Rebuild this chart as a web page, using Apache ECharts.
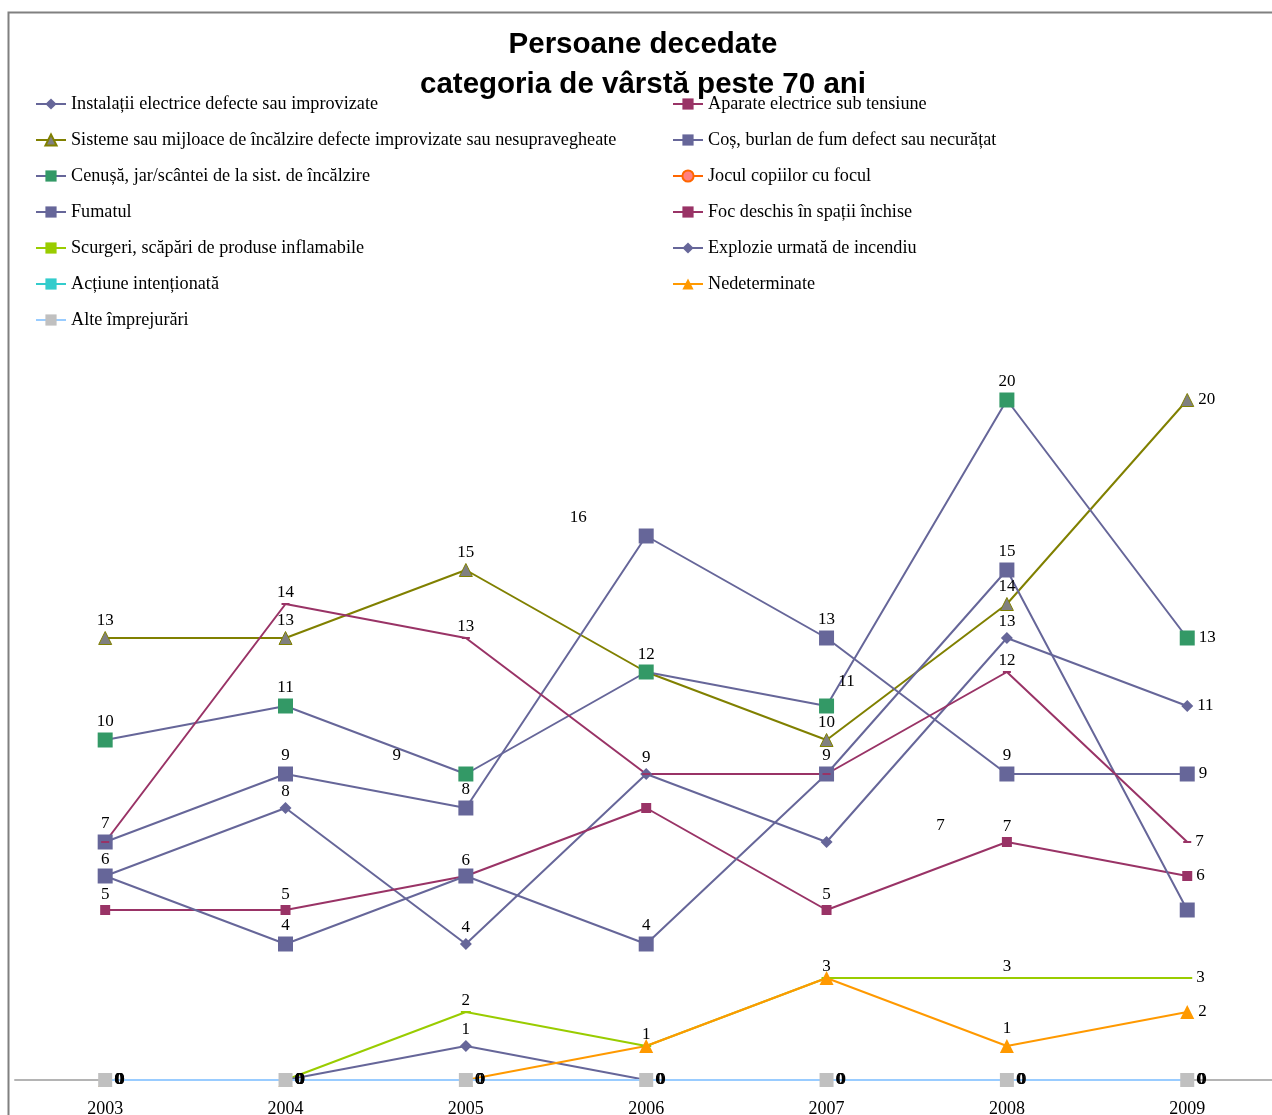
<!DOCTYPE html>
<html><head><meta charset="utf-8">
<script src="https://cdn.jsdelivr.net/npm/echarts@6/dist/echarts.min.js"></script>
<style>html,body{margin:0;padding:0;background:#fff}#c{width:1272px;height:1115px}</style>
</head><body><div id="c"></div><script>
// ---- data ----
const years = [2003, 2004, 2005, 2006, 2007, 2008, 2009];
const instalatii    = [6, 8, 4, 9, 7, 13, 11];
const aparate       = [5, 5, 6, 8, 5, 7, 6];
const sisteme       = [13, 13, 15, 12, 10, 14, 20];
const cos           = [7, 9, 8, 16, 13, 9, 9];
const cenusa        = [10, 11, 9, 12, 11, 20, 13];
const jocul         = [0, 0, 0, 0, 0, 0, 0];
const fumatul       = [6, 4, 6, 4, 9, 15, 5];
const foc           = [7, 14, 13, 9, 9, 12, 7];
const scurgeri      = [0, 0, 2, 1, 3, 3, 3];
const explozie      = [0, 0, 1, 0, 0, 0, 0];
const actiune       = [0, 0, 0, 0, 0, 0, 0];
const nedeterminate = [0, 0, 0, 1, 3, 1, 2];
const alte          = [0, 0, 0, 0, 0, 0, 0];

const N = {
  instalatii: 'Instalații electrice defecte sau improvizate',
  aparate: 'Aparate electrice sub tensiune',
  sisteme: 'Sisteme sau mijloace de încălzire defecte improvizate sau nesupravegheate',
  cos: 'Coș, burlan de fum defect sau necurățat',
  cenusa: 'Cenușă, jar/scântei de la sist. de încălzire',
  jocul: 'Jocul copiilor cu focul',
  fumatul: 'Fumatul',
  foc: 'Foc deschis în spații închise',
  scurgeri: 'Scurgeri, scăpări de produse inflamabile',
  explozie: 'Explozie urmată de incendiu',
  actiune: 'Acțiune intenționată',
  nedeterminate: 'Nedeterminate',
  alte: 'Alte împrejurări'
};

// label placement tweaks (style only)
const tweaks = {
  cenusa: {2: {offset: [-69, 0]}, 4: {offset: [20, -6]}},
  cos: {3: {offset: [-68, 0]}},
  instalatii: {4: {offset: [114, 0]}},
  aparate: {3: {hide: true}},
  fumatul: {6: {hide: true}}
};

const seenLabel = {};
function mkData(key, arr) {
  const tw = tweaks[key] || {};
  return arr.map((v, i) => {
    const t = tw[i];
    const pt = [years[i], v];
    const k = i + ':' + v;
    if ((t && t.hide) || (v !== 0 && seenLabel[k])) return {value: pt, label: {show: false}};
    seenLabel[k] = true;
    const lab = {show: true, fontFamily: 'Liberation Serif', fontSize: 17, color: '#000',
                 formatter: p => String(p.value[1])};
    if (v === 0 || i === 6) { lab.position = 'right'; lab.distance = 4; }
    else { lab.position = 'top'; lab.distance = 2; }
    if (t && t.offset) lab.offset = t.offset;
    return {value: pt, label: lab};
  });
}

function S(key, arr, lineColor, markColor, symbol, size, extra) {
  return Object.assign({
    name: N[key], type: 'line', data: mkData(key, arr),
    symbol: symbol, symbolSize: size, showAllSymbol: true,
    lineStyle: {color: lineColor, width: 2},
    itemStyle: {color: markColor},
    emphasis: {disabled: true},
    animation: false
  }, extra || {});
}

const series = [
  S('instalatii', instalatii, '#666699', '#666699', 'diamond', 12),
  S('aparate', aparate, '#993366', '#993366', 'rect', 10),
  S('sisteme', sisteme, '#808000', '#808080', 'triangle', 13, {itemStyle: {color: '#808080', borderColor: '#808000', borderWidth: 1}}),
  S('cos', cos, '#666699', '#666699', 'rect', 15),
  S('cenusa', cenusa, '#666699', '#339966', 'rect', 15),
  S('jocul', jocul, '#FF6600', '#FF8080', 'circle', 10, {itemStyle: {color: '#FF8080', borderColor: '#FF6600', borderWidth: 1}}),
  S('fumatul', fumatul, '#666699', '#666699', 'rect', 15),
  S('foc', foc, '#993366', '#993366', 'rect', [8, 2]),
  S('scurgeri', scurgeri, '#99CC00', '#99CC00', 'rect', [10, 2]),
  S('explozie', explozie, '#666699', '#666699', 'diamond', 12),
  S('actiune', actiune, '#33CCCC', '#33CCCC', 'rect', 10),
  S('nedeterminate', nedeterminate, '#FF9900', '#FF9900', 'triangle', 14),
  S('alte', alte, '#99CCFF', '#C0C0C0', 'rect', 14)
];

const legendText = {fontFamily: 'Liberation Serif', fontSize: 18.2, color: '#000', lineHeight: 16};
const chart = echarts.init(document.getElementById('c'), null, {renderer: 'canvas'});
chart.setOption({
  backgroundColor: '#fff',
  animation: false,
  title: {
    text: 'Persoane decedate\ncategoria de vârstă peste 70 ani',
    left: 638, top: 20, textAlign: 'center',
    textStyle: {fontFamily: 'Liberation Sans', fontWeight: 'bold', fontSize: 29.5, lineHeight: 40, color: '#000'}
  },
  legend: [
    {orient: 'vertical', left: 30, top: 90, itemWidth: 30, itemHeight: 14, itemGap: 18,
     textStyle: legendText, selectedMode: false,
     data: [N.instalatii, N.sisteme, N.cenusa, N.fumatul, N.scurgeri, N.actiune, N.alte]},
    {orient: 'vertical', left: 667, top: 90, itemWidth: 30, itemHeight: 14, itemGap: 18,
     textStyle: legendText, selectedMode: false,
     data: [N.aparate, N.cos, N.jocul, N.foc, N.explozie, N.nedeterminate]}
  ],
  grid: {left: 15, top: 400, right: 0, height: 680, containLabel: false, outerBoundsMode: 'none'},
  xAxis: {
    type: 'value', min: 2002.5, max: 2009.47,
    splitLine: {show: false},
    axisLine: {show: true, onZero: false, lineStyle: {color: '#B4B4B4', width: 2}},
    axisTick: {show: false},
    axisLabel: {fontFamily: 'Liberation Serif', fontSize: 18, color: '#000', margin: 20,
                customValues: years, formatter: v => String(v)}
  },
  yAxis: {type: 'value', min: 0, max: 20, show: false, splitLine: {show: false}},
  graphic: [{
    type: 'rect', left: 6, top: 10, shape: {x: 0, y: 0, width: 1300, height: 1200},
    style: {fill: 'none', stroke: '#808080', lineWidth: 2}, z: 100, silent: true
  }],
  series: series
});
</script></body></html>
